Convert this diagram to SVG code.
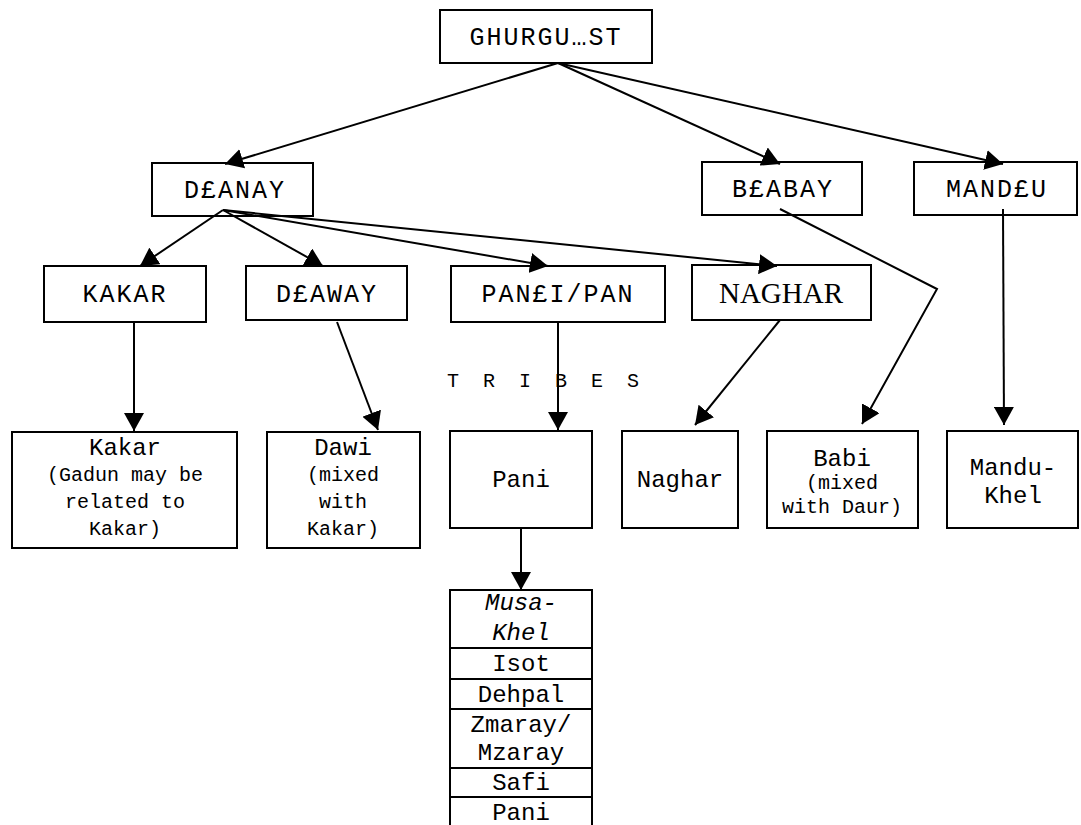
<svg xmlns="http://www.w3.org/2000/svg" width="1081" height="825" viewBox="0 0 1081 825">
<style>
.box{fill:#fff;stroke:#000;stroke-width:2}
.t{font-family:"Liberation Mono","Courier New",monospace;fill:#000;text-anchor:middle}
.h{font-size:25px;letter-spacing:2px}
.m{font-size:24px}
.s{font-size:20px}
.k{font-size:24px}
.serif{font-family:"Liberation Serif","Times New Roman",serif;font-size:29px;fill:#000;text-anchor:middle}
.c{stroke:#000;stroke-width:2;fill:none}
.ca{stroke:#000;stroke-width:2;fill:none;marker-end:url(#ah)}
</style>
<defs>
<marker id="ah" markerUnits="userSpaceOnUse" viewBox="0 0 18 20" refX="18" refY="10" markerWidth="18" markerHeight="20" orient="auto">
<path d="M0,0 L18,10 L0,20 z" fill="#000"/>
</marker>
</defs>
<rect width="1081" height="825" fill="#fff"/>

<g id="ghurgust"><rect class="box" x="440" y="10" width="212" height="53"/><text class="t h" x="546" y="45">GHURGU…ST</text></g>

<g id="danay"><rect class="box" x="152" y="163" width="161" height="53"/><text class="t h" x="235" y="198">D£ANAY</text></g>
<g id="babay"><rect class="box" x="702" y="162" width="160" height="53"/><text class="t h" x="783" y="197">B£ABAY</text></g>
<g id="mandu"><rect class="box" x="914" y="162" width="163" height="53"/><text class="t h" x="997" y="197">MAND£U</text></g>

<g id="kakar-top"><rect class="box" x="44" y="266" width="162" height="56"/><text class="t h" x="125" y="302">KAKAR</text></g>
<g id="daway"><rect class="box" x="246" y="266" width="161" height="54"/><text class="t h" x="327" y="302">D£AWAY</text></g>
<g id="pani-top"><rect class="box" x="451" y="266" width="214" height="56"/><text class="t h" x="558" y="302">PAN£I/PAN</text></g>
<g id="naghar-top"><rect class="box" x="692" y="265" width="179" height="55"/><text class="serif" x="781" y="303">NAGHAR</text></g>

<g id="tribes-label"><text class="t s" x="546" y="387" style="letter-spacing:6px">T R I B E S</text></g>

<g id="kakar"><rect class="box" x="12" y="432" width="225" height="116"/>
<text class="t m" x="125" y="455">Kakar</text>
<text class="t s" x="125" y="481">(Gadun may be</text>
<text class="t s" x="125" y="508">related to</text>
<text class="t s" x="125" y="535">Kakar)</text></g>

<g id="dawi"><rect class="box" x="267" y="432" width="153" height="116"/>
<text class="t m" x="343" y="455">Dawi</text>
<text class="t s" x="343" y="481">(mixed</text>
<text class="t s" x="343" y="508">with</text>
<text class="t s" x="343" y="535">Kakar)</text></g>

<g id="pani"><rect class="box" x="450" y="431" width="142" height="97"/><text class="t m" x="521" y="487">Pani</text></g>
<g id="naghar"><rect class="box" x="622" y="431" width="116" height="97"/><text class="t m" x="680" y="487">Naghar</text></g>
<g id="babi"><rect class="box" x="767" y="431" width="151" height="97"/>
<text class="t m" x="842" y="466">Babi</text>
<text class="t s" x="842" y="489">(mixed</text>
<text class="t s" x="842" y="513">with Daur)</text></g>
<g id="mandukhel"><rect class="box" x="947" y="431" width="131" height="97"/>
<text class="t m" x="1013" y="475">Mandu-</text>
<text class="t m" x="1013" y="503">Khel</text></g>

<g id="subtribes">
<path class="c" d="M450,826 V590 H592 V826 M450,648 H592 M450,679 H592 M450,709 H592 M450,768 H592 M450,797 H592"/>
<text class="t k" x="521" y="610" font-style="italic">Musa-</text>
<text class="t k" x="521" y="640" font-style="italic">Khel</text>
<text class="t k" x="521" y="671">Isot</text>
<text class="t k" x="521" y="702">Dehpal</text>
<text class="t k" x="521" y="732">Zmaray/</text>
<text class="t k" x="521" y="760">Mzaray</text>
<text class="t k" x="521" y="790">Safi</text>
<text class="t k" x="521" y="820">Pani</text>
</g>

<g id="connectors">
<path class="ca" d="M558,63 L225,164"/>
<path class="ca" d="M558,63 L780,164"/>
<path class="ca" d="M558,63 L1003,164"/>
<path class="ca" d="M223,210 L140,266"/>
<path class="ca" d="M223,210 L323,266"/>
<path class="ca" d="M223,210 L548,266"/>
<path class="ca" d="M223,210 L777,266"/>
<path class="ca" d="M134,322 V431"/>
<path class="ca" d="M337,322 L378,430"/>
<path class="ca" d="M558,322 V430"/>
<path class="ca" d="M780,320 L695,425"/>
<path class="ca" d="M780,209 L937,289 L862,424"/>
<path class="ca" d="M1003,209 L1004,425"/>
<path class="ca" d="M521,528 V590"/>
</g>
</svg>
